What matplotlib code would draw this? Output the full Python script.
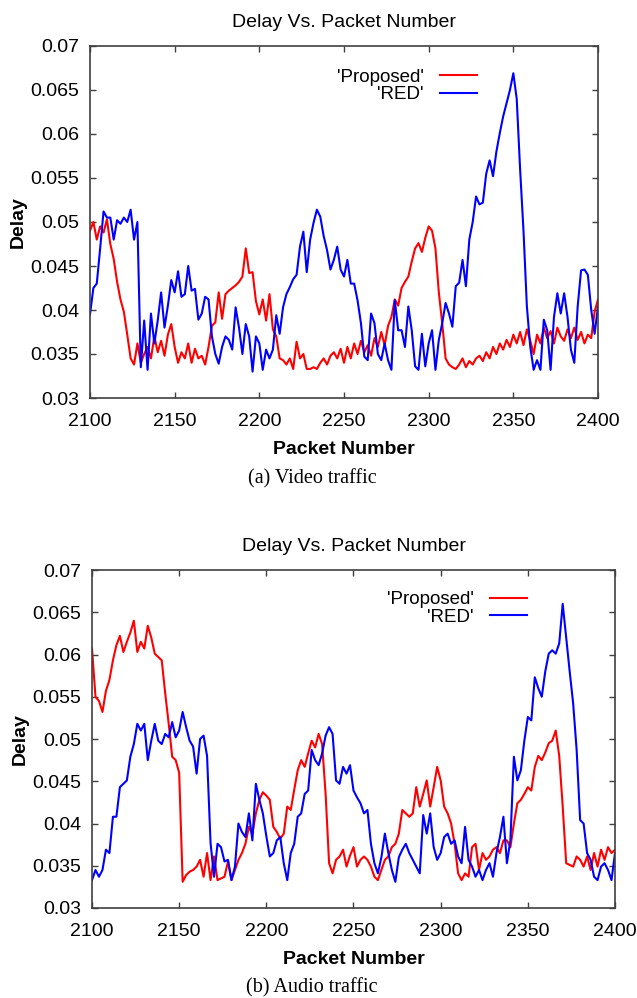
import matplotlib
matplotlib.use("Agg")
import matplotlib.pyplot as plt
import numpy as np

# one delay sample every second packet, 2100..2400
PACKETS = np.arange(2100, 2401, 2)

VIDEO_PROPOSED = [
    0.0490, 0.0500, 0.0480, 0.0495, 0.0488, 0.0503, 0.0475, 0.0458, 0.0432, 0.0412,
    0.0398, 0.0372, 0.0345, 0.0338, 0.0362, 0.0340, 0.0350, 0.0358, 0.0345, 0.0370,
    0.0352, 0.0365, 0.0348, 0.0372, 0.0384, 0.0358, 0.0340, 0.0352, 0.0345, 0.0362,
    0.0340, 0.0356, 0.0345, 0.0348, 0.0338, 0.0358, 0.0382, 0.0386, 0.0420, 0.0390,
    0.0418, 0.0422, 0.0425, 0.0428, 0.0432, 0.0438, 0.0470, 0.0442, 0.0443, 0.0410,
    0.0395, 0.0412, 0.0388, 0.0418, 0.0378, 0.0370, 0.0345, 0.0343, 0.0338, 0.0345,
    0.0333, 0.0364, 0.0345, 0.0350, 0.0333, 0.0333, 0.0335, 0.0333, 0.0340, 0.0345,
    0.0338, 0.0348, 0.0352, 0.0345, 0.0356, 0.0340, 0.0358, 0.0345, 0.0362, 0.0350,
    0.0365, 0.0352, 0.0360, 0.0348, 0.0368, 0.0358, 0.0375, 0.0360, 0.0382, 0.0392,
    0.0412, 0.0405, 0.0425, 0.0432, 0.0438, 0.0455, 0.0470, 0.0476, 0.0466, 0.0482,
    0.0495, 0.0490, 0.0470, 0.0420, 0.0385, 0.0345, 0.0338, 0.0335, 0.0333, 0.0338,
    0.0345, 0.0335, 0.0342, 0.0338, 0.0345, 0.0348, 0.0342, 0.0352, 0.0345, 0.0358,
    0.0350, 0.0362, 0.0355, 0.0366, 0.0358, 0.0372, 0.0362, 0.0375, 0.0360, 0.0378,
    0.0365, 0.0350, 0.0372, 0.0362, 0.0380, 0.0368, 0.0376, 0.0362, 0.0380, 0.0370,
    0.0365, 0.0378, 0.0368, 0.0380, 0.0366, 0.0375, 0.0362, 0.0372, 0.0368, 0.0398,
    0.0412,
]

VIDEO_RED = [
    0.0395, 0.0425, 0.0430, 0.0470, 0.0512, 0.0505, 0.0505, 0.0480, 0.0502, 0.0498,
    0.0505, 0.0500, 0.0514, 0.0480, 0.0500, 0.0335, 0.0388, 0.0332, 0.0396, 0.0362,
    0.0388, 0.0420, 0.0380, 0.0405, 0.0434, 0.0420, 0.0444, 0.0415, 0.0418, 0.0450,
    0.0422, 0.0424, 0.0389, 0.0396, 0.0415, 0.0412, 0.0370, 0.0350, 0.0339, 0.0358,
    0.0370, 0.0366, 0.0355, 0.0403, 0.0380, 0.0350, 0.0384, 0.0370, 0.0330, 0.0370,
    0.0362, 0.0332, 0.0355, 0.0345, 0.0355, 0.0394, 0.0373, 0.0403, 0.0418, 0.0426,
    0.0435, 0.0440, 0.0472, 0.0489, 0.0443, 0.0480, 0.0499, 0.0514, 0.0506, 0.0484,
    0.0468, 0.0446, 0.0457, 0.0472, 0.0446, 0.0438, 0.0457, 0.0430, 0.0430, 0.0411,
    0.0385, 0.0347, 0.0343, 0.0396, 0.0385, 0.0350, 0.0343, 0.0362, 0.0343, 0.0332,
    0.0411, 0.0377, 0.0377, 0.0358, 0.0404, 0.0377, 0.0336, 0.0332, 0.0373, 0.0336,
    0.0362, 0.0377, 0.0332, 0.0366, 0.0385, 0.0408, 0.0396, 0.0381, 0.0427, 0.0431,
    0.0457, 0.0427, 0.0480, 0.0500, 0.0529, 0.0520, 0.0522, 0.0555, 0.0570, 0.0552,
    0.0580, 0.0601, 0.0620, 0.0635, 0.0650, 0.0669, 0.0640, 0.0560, 0.0490, 0.0404,
    0.0358, 0.0332, 0.0343, 0.0332, 0.0389, 0.0377, 0.0332, 0.0392, 0.0419, 0.0396,
    0.0419, 0.0392, 0.0355, 0.0340, 0.0404, 0.0445, 0.0446, 0.0440, 0.0400, 0.0373,
    0.0404,
]

AUDIO_PROPOSED = [
    0.0607, 0.0550, 0.0545, 0.0532, 0.0557, 0.0570, 0.0593, 0.0611, 0.0622, 0.0603,
    0.0615, 0.0626, 0.0640, 0.0603, 0.0615, 0.0607, 0.0634, 0.0620, 0.0601, 0.0597,
    0.0593, 0.0554, 0.0518, 0.0479, 0.0475, 0.0460, 0.0331, 0.0339, 0.0343, 0.0345,
    0.0349, 0.0357, 0.0337, 0.0365, 0.0333, 0.0361, 0.0333, 0.0335, 0.0337, 0.0355,
    0.0333, 0.0345, 0.0357, 0.0365, 0.0376, 0.0396, 0.0388, 0.0412, 0.0428, 0.0437,
    0.0433, 0.0428, 0.0396, 0.0390, 0.0382, 0.0388, 0.0420, 0.0416, 0.0440, 0.0463,
    0.0475, 0.0467, 0.0483, 0.0498, 0.0490, 0.0506, 0.0494, 0.0435, 0.0353, 0.0341,
    0.0357, 0.0361, 0.0369, 0.0349, 0.0362, 0.0372, 0.0349, 0.0357, 0.0361, 0.0357,
    0.0349, 0.0337, 0.0333, 0.0345, 0.0357, 0.0361, 0.0372, 0.0376, 0.0388, 0.0416,
    0.0412, 0.0408, 0.0412, 0.0443, 0.0420, 0.0435, 0.0451, 0.0420, 0.0443, 0.0467,
    0.0451, 0.0420, 0.0412, 0.0400, 0.0376, 0.0341, 0.0333, 0.0341, 0.0337, 0.0372,
    0.0376, 0.0345, 0.0365, 0.0357, 0.0361, 0.0369, 0.0372, 0.0365, 0.0380, 0.0380,
    0.0372, 0.0400, 0.0424, 0.0428, 0.0435, 0.0443, 0.0439, 0.0467, 0.0480, 0.0475,
    0.0484, 0.0495, 0.0498, 0.0510, 0.0480, 0.0420, 0.0353, 0.0351, 0.0349, 0.0361,
    0.0357, 0.0349, 0.0361, 0.0345, 0.0365, 0.0349, 0.0369, 0.0357, 0.0372, 0.0365,
    0.0369,
]

AUDIO_RED = [
    0.0333, 0.0345, 0.0337, 0.0345, 0.0369, 0.0365, 0.0408, 0.0408, 0.0443, 0.0447,
    0.0451, 0.0479, 0.0494, 0.0518, 0.0510, 0.0518, 0.0475, 0.0498, 0.0518, 0.0498,
    0.0494, 0.0506, 0.0502, 0.0520, 0.0502, 0.0510, 0.0532, 0.0514, 0.0498, 0.0491,
    0.0459, 0.0500, 0.0504, 0.0480, 0.0377, 0.0337, 0.0376, 0.0372, 0.0355, 0.0357,
    0.0333, 0.0349, 0.0400, 0.0390, 0.0384, 0.0412, 0.0380, 0.0447, 0.0428, 0.0412,
    0.0385, 0.0361, 0.0365, 0.0380, 0.0384, 0.0353, 0.0333, 0.0365, 0.0376, 0.0408,
    0.0412, 0.0435, 0.0439, 0.0487, 0.0475, 0.0469, 0.0483, 0.0504, 0.0514, 0.0506,
    0.0451, 0.0447, 0.0467, 0.0459, 0.0469, 0.0439, 0.0431, 0.0424, 0.0412, 0.0416,
    0.0376, 0.0353, 0.0341, 0.0360, 0.0388, 0.0365, 0.0345, 0.0331, 0.0360, 0.0369,
    0.0376, 0.0365, 0.0357, 0.0349, 0.0341, 0.0410, 0.0388, 0.0412, 0.0372, 0.0357,
    0.0365, 0.0384, 0.0388, 0.0376, 0.0380, 0.0361, 0.0353, 0.0396, 0.0357, 0.0349,
    0.0337, 0.0345, 0.0333, 0.0345, 0.0353, 0.0337, 0.0365, 0.0384, 0.0408, 0.0353,
    0.0380, 0.0479, 0.0451, 0.0463, 0.0498, 0.0526, 0.0522, 0.0573, 0.0560, 0.0550,
    0.0580, 0.0601, 0.0605, 0.0601, 0.0613, 0.0660, 0.0620, 0.0580, 0.0542, 0.0487,
    0.0404, 0.0400, 0.0365, 0.0357, 0.0337, 0.0333, 0.0349, 0.0353, 0.0345, 0.0333,
    0.0365,
]

X_TICKS = [2100, 2150, 2200, 2250, 2300, 2350, 2400]
Y_TICKS = [0.03, 0.035, 0.04, 0.045, 0.05, 0.055, 0.06, 0.065, 0.07]
Y_TICK_LABELS = ["0.03", "0.035", "0.04", "0.045", "0.05", "0.055", "0.06", "0.065", "0.07"]

SANS = ["Liberation Sans", "DejaVu Sans"]
SERIF = ["Liberation Serif", "DejaVu Serif"]
FRAME = "#404040"


def draw_panel(fig, rect, proposed, red, legend_anchor, caption, caption_y):
    ax = fig.add_axes(rect)
    ax.plot(PACKETS, proposed, color="#ff0000", lw=1.5, label="'Proposed'")
    ax.plot(PACKETS, red, color="#0000ff", lw=1.5, label="'RED'")

    ax.set_xlim(2100, 2400)
    ax.set_ylim(0.03, 0.07)
    ax.set_xticks(X_TICKS)
    ax.set_yticks(Y_TICKS)
    ax.set_yticklabels(Y_TICK_LABELS)
    ax.tick_params(direction="in", length=4, width=1, color=FRAME,
                   top=True, right=True, labelsize=14, pad=8)
    ax.tick_params(axis="x", pad=11)
    for lab in ax.get_xticklabels() + ax.get_yticklabels():
        lab.set_family(SANS)
    for sp in ax.spines.values():
        sp.set_color(FRAME)
        sp.set_linewidth(1.2)

    ax.set_title("Delay Vs. Packet Number", family=SANS, fontsize=14, pad=14)
    ax.set_xlabel("Packet Number", family=SANS, fontsize=14, fontweight="bold", labelpad=8)
    ax.set_ylabel("Delay", family=SANS, fontsize=14, fontweight="bold", labelpad=2)

    ax.legend(loc="upper right", bbox_to_anchor=legend_anchor, frameon=False,
              markerfirst=False, prop={"family": SANS, "size": 13.5},
              handlelength=2.0, handletextpad=0.85, labelspacing=0.0,
              borderpad=0, borderaxespad=0)

    fig.text(312 / 637, caption_y, caption, family=SERIF, fontsize=14.5,
             ha="center", va="center")
    return ax


def main():
    fig = plt.figure(figsize=(6.37, 9.98), dpi=100)

    draw_panel(fig, [90 / 637, 1 - 398 / 998, 508 / 637, 352 / 998],
               VIDEO_PROPOSED, VIDEO_RED, (0.762, 0.935),
               "(a) Video traffic", 1 - 479 / 998)
    draw_panel(fig, [92 / 637, 1 - 908 / 998, 523 / 637, 338 / 998],
               AUDIO_PROPOSED, AUDIO_RED, (0.832, 0.937),
               "(b) Audio traffic", 1 - 988 / 998)

    fig.savefig("out.png", dpi=100)
    plt.close(fig)


if __name__ == "__main__":
    main()
